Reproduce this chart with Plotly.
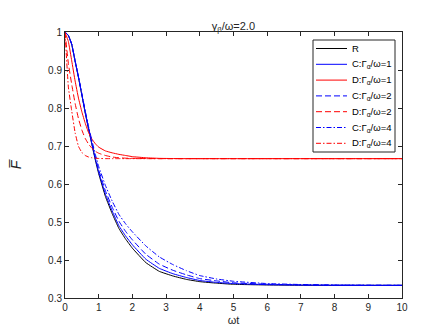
import plotly.graph_objects as go

# time grid (omega t)
t = [0, 0.1, 0.2, 0.3, 0.4, 0.5, 0.6, 0.7, 0.8, 0.9, 1.0, 1.2, 1.4, 1.6, 1.8,
     2.0, 2.4, 2.8, 3.2, 3.6, 4.0, 4.5, 5, 6, 7, 8, 9, 10]

# fidelity
r_vals = [1, 0.991, 0.967, 0.923, 0.880, 0.834, 0.787, 0.744, 0.703, 0.663, 0.627,
          0.567, 0.522, 0.483, 0.455, 0.431, 0.393, 0.370, 0.358, 0.349, 0.343,
          0.339, 0.336, 0.3343, 0.3336, 0.3333, 0.3333, 0.3333]
c1_vals = [1, 0.991, 0.967, 0.923, 0.881, 0.835, 0.788, 0.745, 0.705, 0.666, 0.631,
           0.573, 0.529, 0.490, 0.463, 0.440, 0.402, 0.378, 0.364, 0.354, 0.346,
           0.341, 0.338, 0.3351, 0.3340, 0.3335, 0.3334, 0.3333]
c2_vals = [1, 0.991, 0.968, 0.924, 0.882, 0.836, 0.790, 0.748, 0.709, 0.671, 0.637,
           0.582, 0.539, 0.502, 0.475, 0.453, 0.415, 0.389, 0.373, 0.361, 0.351,
           0.345, 0.340, 0.3363, 0.3346, 0.3338, 0.3335, 0.3334]
c4_vals = [1, 0.991, 0.968, 0.925, 0.883, 0.838, 0.793, 0.751, 0.714, 0.678, 0.646,
           0.596, 0.555, 0.520, 0.495, 0.474, 0.437, 0.408, 0.388, 0.372, 0.359,
           0.350, 0.344, 0.338, 0.3355, 0.3343, 0.3337, 0.3335]
d1_vals = [1, 0.975, 0.924, 0.871, 0.826, 0.790, 0.760, 0.735, 0.718, 0.706, 0.697,
           0.687, 0.682, 0.678, 0.675, 0.672, 0.669, 0.6675, 0.667, 0.6667, 0.6667,
           0.6667, 0.6667, 0.6667, 0.6667, 0.6667, 0.6667, 0.6667]
d2_vals = [1, 0.917, 0.862, 0.812, 0.772, 0.742, 0.720, 0.705, 0.694, 0.686, 0.681,
           0.675, 0.671, 0.669, 0.668, 0.6675, 0.667, 0.6667, 0.6667, 0.6667, 0.6667,
           0.6667, 0.6667, 0.6667, 0.6667, 0.6667, 0.6667, 0.6667]
d4_vals = [1, 0.855, 0.792, 0.735, 0.699, 0.683, 0.675, 0.671, 0.669, 0.668, 0.6672,
           0.6668, 0.6667, 0.6667, 0.6667, 0.6667, 0.6667, 0.6667, 0.6667, 0.6667,
           0.6667, 0.6667, 0.6667, 0.6667, 0.6667, 0.6667, 0.6667, 0.6667]

y_ticks = [0.3, 0.4, 0.5, 0.6, 0.7, 0.8, 0.9, 1]
y_tick_text = ['0.3', '0.4', '0.5', '0.6', '0.7', '0.8', '0.9', '1']

DASH = '6px,3px'
DASHDOT = '5px,2px,1.5px,2px'

series = [
    ('R', r_vals, 'black', 'solid'),
    ('C:Γ<sub>α</sub>/ω=1', c1_vals, 'blue', 'solid'),
    ('D:Γ<sub>α</sub>/ω=1', d1_vals, 'red', 'solid'),
    ('C:Γ<sub>α</sub>/ω=2', c2_vals, 'blue', DASH),
    ('D:Γ<sub>α</sub>/ω=2', d2_vals, 'red', DASH),
    ('C:Γ<sub>α</sub>/ω=4', c4_vals, 'blue', DASHDOT),
    ('D:Γ<sub>α</sub>/ω=4', d4_vals, 'red', DASHDOT),
]

# plot area in pixels (MATLAB-like box)
L, R, T, B = 57, 394, 24, 290
W, H = R - L, B - T


def px_x(px):
    return (px - L) / W


def px_y(py):
    return (B - py) / H


fig = go.Figure()
for name, vals, color, dash in series:
    fig.add_trace(go.Scatter(
        x=t, y=vals, mode='lines', name=name,
        line=dict(color=color, width=1, dash=dash, shape='spline', smoothing=0.3)
    ))

# hand-drawn legend, MATLAB style (plotly rows are too tall)
shapes = [dict(type='rect', xref='paper', yref='paper',
               x0=px_x(305), x1=px_x(387), y0=px_y(144), y1=px_y(32),
               line=dict(color='#262626', width=1), fillcolor='white', layer='above')]
annotations = []
row_y = 40.5
for name, vals, color, dash in series:
    shapes.append(dict(type='line', xref='paper', yref='paper',
                       x0=px_x(308), x1=px_x(339), y0=px_y(row_y), y1=px_y(row_y),
                       line=dict(color=color, width=1, dash=dash), layer='above'))
    annotations.append(dict(xref='paper', yref='paper', x=px_x(342), y=px_y(row_y),
                            xanchor='left', yanchor='middle', text=name, showarrow=False,
                            font=dict(size=9.5, color='black')))
    row_y += 15.8

axis_common = dict(
    showline=True, linecolor='#262626', linewidth=1, mirror='ticks',
    ticks='inside', ticklen=4, tickcolor='#262626', showgrid=False,
    zeroline=False, automargin=False, tickfont=dict(size=10, color='#262626')
)

fig.update_layout(
    width=436, height=327,
    margin=dict(l=L, r=436 - R, t=T, b=327 - B, autoexpand=False),
    plot_bgcolor='white', paper_bgcolor='white',
    font=dict(family='Liberation Sans, Arial, sans-serif', color='#262626', size=10),
    title=dict(text='γ<sub>β</sub>/ω=2.0', x=0.517, xanchor='center',
               y=0.946, yanchor='middle', font=dict(size=11)),
    xaxis=dict(range=[0, 10], dtick=1, title=dict(text='ωt', standoff=4, font=dict(size=11)),
               **axis_common),
    yaxis=dict(range=[0.3, 1], tickvals=y_ticks, ticktext=y_tick_text,
               title=dict(text='<i>F\u0305</i>', standoff=26, font=dict(size=14)),
               **axis_common),
    shapes=shapes,
    annotations=annotations,
    showlegend=False,
)

fig.write_html("out.html")
